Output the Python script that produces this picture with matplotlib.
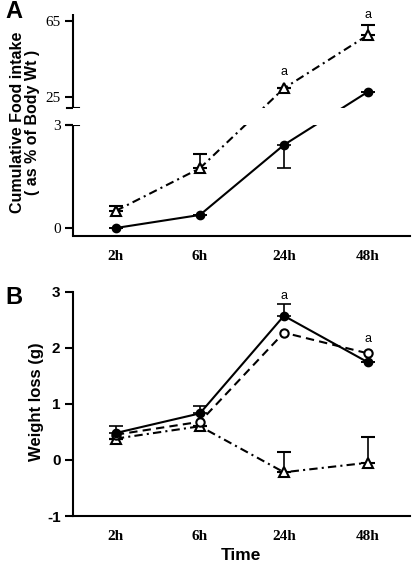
import numpy as np
import matplotlib
matplotlib.use('Agg')
import matplotlib.pyplot as plt

times = ['2h', '6h', '24h', '48h']

# panel A: cumulative food intake (% of body wt)
food_circle = [0.0, 0.38, 2.42, 27.9]
food_circle_err_lo = [0.0, 0.0, 0.66, 0.0]
food_tri = [0.5, 1.74, 29.7, 57.5]
food_tri_err_hi = [0.14, 0.41, 0.0, 5.3]
food_sig = ['', '', 'a', 'a']
food_sig_y = [0, 0, 38.4, 68.0]

# panel B: weight loss (g)
wl_closed = [0.48, 0.83, 2.57, 1.74]
wl_closed_err_hi = [0.12, 0.13, 0.21, 0.0]
wl_open = [0.45, 0.68, 2.27, 1.90]
wl_tri = [0.38, 0.60, -0.22, -0.05]
wl_tri_err_hi = [0.0, 0.0, 0.37, 0.46]
wl_sig = ['', '', 'a', 'a']
wl_sig_y = [0, 0, 2.93, 2.15]

SERIF = 'Liberation Serif'
SANS = 'Liberation Sans'
LW = 1.5

W, H = 415, 566
fig = plt.figure(figsize=(W / 100, H / 100), dpi=100)
x = np.arange(len(times))

# broken y axis for panel A: piecewise linear scale, gap hidden
brk_vals = [-0.233, 3.0, 19.41, 68.5]
brk_pos = [0.0, 111.0, 128.0, 222.0]


def fwd(v):
    return np.interp(v, brk_vals, brk_pos)


def inv(p):
    return np.interp(p, brk_pos, brk_vals)


def px_box(left, top, right, bottom):
    return [left / W, 1 - bottom / H, (right - left) / W, (bottom - top) / H]


# ---- panel A ----
axA = fig.add_axes(px_box(73, 14, 410, 236))
axA.set_yscale('function', functions=(fwd, inv))
axA.set_ylim(brk_vals[0], brk_vals[-1])
axA.set_xlim(-0.51, 3.5)

axA.errorbar(x, food_tri, yerr=[np.zeros(4), food_tri_err_hi], color='black',
             lw=LW, dashes=(4, 2, 1, 2), marker='^', ms=7, mfc='white',
             mec='black', mew=1.5, capsize=5, elinewidth=1.2, capthick=1.2,
             zorder=2)
axA.errorbar(x, food_circle, yerr=[food_circle_err_lo, np.zeros(4)],
             color='black', lw=LW, marker='o', ms=6, capsize=5,
             elinewidth=1.2, capthick=1.2, zorder=2)
# hide the lines inside the break
axA.axhspan(brk_vals[1], brk_vals[2], facecolor='white', edgecolor='none',
            zorder=2.5)

for xi, s, yy in zip(x, food_sig, food_sig_y):
    if s:
        axA.text(xi, yy, s, ha='center', va='center', fontsize=9,
                 family=SANS)

for side in ['top', 'right', 'left']:
    axA.spines[side].set_visible(False)
axA.spines['bottom'].set_linewidth(LW)
yax = axA.get_yaxis_transform()
axA.plot([0, 0], [brk_vals[0], brk_vals[1]], transform=yax, color='black',
         lw=LW, clip_on=False, solid_capstyle='butt')
axA.plot([0, 0], [brk_vals[2], brk_vals[3]], transform=yax, color='black',
         lw=LW, clip_on=False, solid_capstyle='butt')
for yb in brk_vals[1:3]:
    axA.plot([-0.017, 0.017], [yb, yb], transform=yax, color='black',
             lw=LW, clip_on=False)

axA.set_yticks([0, 3, 25, 65])
axA.set_yticklabels(['0', '3', '25', '65'], family=SERIF, fontsize=11)
axA.set_xticks(x)
axA.set_xticklabels(times, family=SERIF, fontsize=11, fontweight='bold')
axA.tick_params(axis='y', direction='out', length=6, width=LW, pad=3)
axA.tick_params(axis='x', length=0, pad=10)

fig.text(5 / W, 1 - 12 / H, 'A', fontsize=17, fontweight='bold',
         family=SANS, va='center', ha='left')
fig.text(25 / W, 1 - 122 / H, 'Cumulative Food intake\n( as % of Body Wt )',
         rotation=90, ha='center', va='center', fontsize=11.5,
         fontweight='bold', family=SANS, multialignment='center',
         linespacing=1.05)

# ---- panel B ----
axB = fig.add_axes(px_box(73, 291.7, 410, 516))
axB.set_ylim(-1, 3)
axB.set_xlim(-0.51, 3.5)

axB.errorbar(x, wl_tri, yerr=[np.zeros(4), wl_tri_err_hi], color='black',
             lw=LW, dashes=(4, 2, 1, 2), marker='^', ms=7, mfc='white',
             mec='black', mew=1.5, capsize=5, elinewidth=1.2, capthick=1.2,
             zorder=2)
axB.plot(x, wl_open, color='black', lw=LW, dashes=(4, 2.5), marker='o',
         ms=6, mfc='white', mec='black', mew=1.5, zorder=3)
axB.errorbar(x, wl_closed, yerr=[np.zeros(4), wl_closed_err_hi],
             color='black', lw=LW, marker='o', ms=6, capsize=5,
             elinewidth=1.2, capthick=1.2, zorder=4)

for xi, s, yy in zip(x, wl_sig, wl_sig_y):
    if s:
        axB.text(xi, yy, s, ha='center', va='center', fontsize=9,
                 family=SANS)

for side in ['top', 'right']:
    axB.spines[side].set_visible(False)
for side in ['left', 'bottom']:
    axB.spines[side].set_linewidth(LW)

axB.set_yticks([-1, 0, 1, 2, 3])
axB.set_yticklabels(['-1', '0', '1', '2', '3'], family=SANS, fontsize=11,
                    fontweight='bold')
axB.set_xticks(x)
axB.set_xticklabels(times, family=SERIF, fontsize=11, fontweight='bold')
axB.tick_params(axis='y', direction='out', length=6, width=LW, pad=3)
axB.tick_params(axis='x', length=0, pad=10)

fig.text(241 / W, 1 - 556 / H, 'Time', family=SANS, fontsize=12.5,
         fontweight='bold', ha='center', va='center')
fig.text(5 / W, 1 - 298 / H, 'B', fontsize=17, fontweight='bold',
         family=SANS, va='center', ha='left')
fig.text(37 / W, 1 - 402 / H, 'Weight loss (g)', rotation=90, ha='center',
         va='center', fontsize=12, fontweight='bold', family=SANS)

fig.savefig('out.png', dpi=100)
